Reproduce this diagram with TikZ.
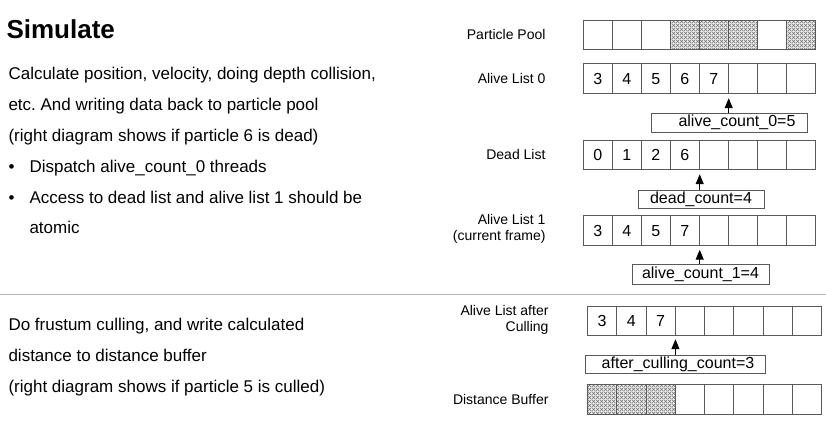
\documentclass[tikz,border=0pt]{standalone}
\usepackage{fontspec}
\setmainfont{Liberation Sans}
\usetikzlibrary{patterns,arrows.meta,calc}
\pgfdeclarepatternformonly{xhatch}{\pgfpointorigin}{\pgfqpoint{4pt}{4pt}}{\pgfqpoint{4pt}{4pt}}{%
  \pgfsetlinewidth{0.7pt}%
  \pgfpathmoveto{\pgfqpoint{-0.1pt}{-0.1pt}}\pgfpathlineto{\pgfqpoint{4.1pt}{4.1pt}}%
  \pgfpathmoveto{\pgfqpoint{-0.1pt}{4.1pt}}\pgfpathlineto{\pgfqpoint{4.1pt}{-0.1pt}}%
  \pgfusepath{stroke}}
\frenchspacing
\begin{document}
\begin{tikzpicture}[x=1pt,y=-1pt,
  cellbox/.style={draw=black!65,line width=0.7pt,minimum width=29pt,minimum height=29.5pt,inner sep=0pt,anchor=north west,font=\fontsize{16}{18}\selectfont},
  cellboxb/.style={cellbox,minimum width=29.25pt},
  plain/.style={},
  hatch/.style={preaction={fill=gray!12},pattern=xhatch,pattern color=black!55},
  cntbox/.style={draw=black!65,line width=0.7pt,inner sep=0pt,font=\fontsize{16}{18}\selectfont},
  rowlbl/.style={anchor=east,align=right,font=\fontsize{14}{16}\selectfont},
  body/.style={anchor=base west,font=\fontsize{17}{20}\selectfont},
  ptr/.style={-{Triangle[length=10pt,width=8pt]},line width=1.2pt}]

\useasboundingbox (0,0) rectangle (826,427);

% ---- left text, upper part
\node[anchor=base west,font=\bfseries\fontsize{26}{30}\selectfont] (title) at (3,39) {Simulate};
\node[body] (t1) at (5,80) {Calculate position, velocity, doing depth collision,};
\node[body] (t2) at (5,111) {etc. And writing data back to particle pool};
\node[body] (t3) at (5,142) {(right diagram shows if particle 6 is dead)};
\node[body] (b1) at (5,173) {•};
\node[body] (t4) at (26,173) {Dispatch alive\_count\_0 threads};
\node[body] (b2) at (5,204) {•};
\node[body] (t5) at (26,204) {Access to dead list and alive list 1 should be};
\node[body] (t6) at (26,234) {atomic};

% ---- separator
\draw[gray!55,line width=1pt] (0,294) -- (826,294);

% ---- left text, lower part
\node[body] (u1) at (5,330) {Do frustum culling, and write calculated};
\node[body] (u2) at (5,361) {distance to distance buffer};
\node[body] (u3) at (5,392) {(right diagram shows if particle 5 is culled)};

% ---- row labels
\node[rowlbl] (lpp) at (549,34.5) {Particle Pool};
\node[rowlbl] (lal0) at (549,78) {Alive List 0};
\node[rowlbl] (ldl) at (549,154.5) {Dead List};
\node[rowlbl] (lal1) at (549,229) {Alive List 1\\(current frame)};
\node[rowlbl] (lac) at (552,320) {Alive List after\\Culling};
\node[rowlbl] (ldb) at (552,399) {Distance Buffer};

% ---- rows of cells
\foreach \s [count=\i from 0] in {plain,plain,plain,hatch,hatch,hatch,plain,hatch}
  \node[cellbox,\s] (pp-\i) at (583+29*\i,20) {};
\foreach \t [count=\i from 0] in {3,4,5,6,7,{},{},{}}
  \node[cellbox] (al0-\i) at (583+29*\i,63.5) {\t};
\foreach \t [count=\i from 0] in {0,1,2,6,{},{},{},{}}
  \node[cellbox] (dl-\i) at (583+29*\i,140) {\t};
\foreach \t [count=\i from 0] in {3,4,5,7,{},{},{},{}}
  \node[cellbox] (al1-\i) at (583+29*\i,215.5) {\t};
\foreach \t [count=\i from 0] in {3,4,7,{},{},{},{},{}}
  \node[cellboxb] (ac-\i) at (587+29.25*\i,305.5) {\t};
\foreach \s [count=\i from 0] in {hatch,hatch,hatch,plain,plain,plain,plain,plain}
  \node[cellboxb,\s] (db-\i) at (587+29.25*\i,384) {};

% ---- counters
\node[cntbox,minimum width=156pt,minimum height=19pt] (c0) at (729,122.5) {\hspace{16pt}alive\_count\_0=5};
\node[cntbox,minimum width=126pt,minimum height=18pt] (cd) at (701,199) {dead\_count=4};
\node[cntbox,minimum width=137pt,minimum height=20pt] (c1) at (700.5,274) {alive\_count\_1=4};
\node[cntbox,minimum width=180pt,minimum height=18pt] (cc) at (675,364) {\hspace{6pt}after\_culling\_count=3};

% ---- pointers
\coordinate (p0) at ($(al0-4.south east)+(0,4.5)$);
\coordinate (pd) at ($(dl-3.south east)+(0,4)$);
\coordinate (p1) at ($(al1-3.south east)+(0,4)$);
\coordinate (pc) at ($(ac-2.south east)+(0,3.5)$);
\draw[ptr] (p0 |- c0.north) -- (p0);
\draw[ptr] (pd |- cd.north) -- (pd);
\draw[ptr] (p1 |- c1.north) -- (p1);
\draw[ptr] (pc |- cc.north) -- (pc);
\end{tikzpicture}
\end{document}
